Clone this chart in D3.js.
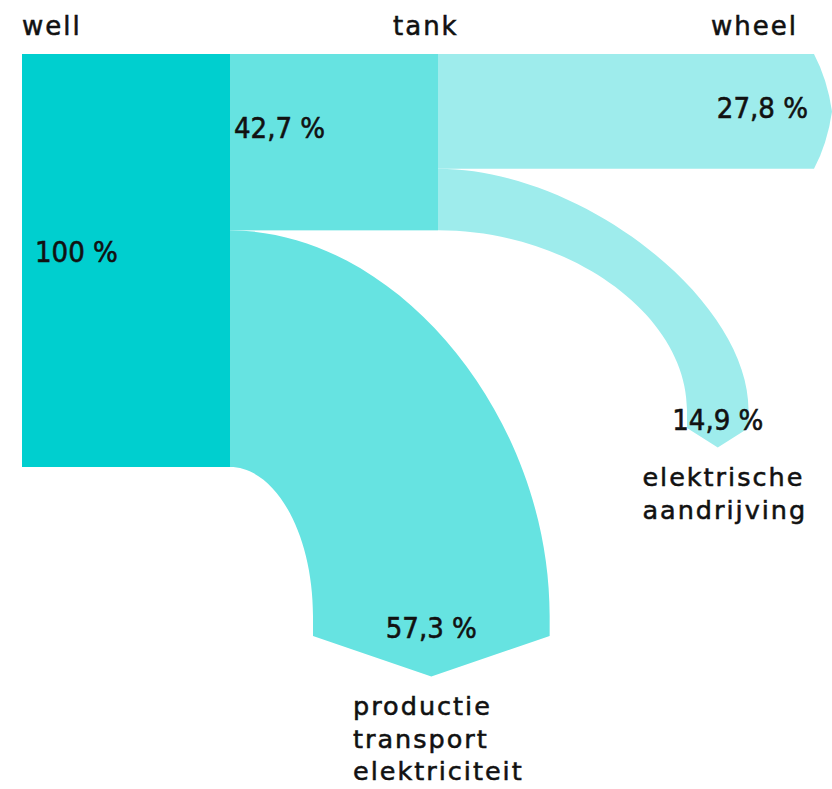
<!DOCTYPE html>
<html><head><meta charset="utf-8">
<script src="https://cdn.jsdelivr.net/npm/d3@7"></script>
<style>body{margin:0;background:#fff}svg{display:block}text{stroke:#111;stroke-width:0.55px;paint-order:stroke}</style>
</head><body>
<svg id="chart" width="832" height="789"></svg>
<script>
// ---- data ----
const stages = ["well", "tank", "wheel"];
const stageValues = [100, 42.7, 27.8];
const lossNames = [["productie", "transport", "elektriciteit"], ["elektrische", "aandrijving"]];
const lossValues = [57.3, 14.9];
const colors = ["#00CFCF", "#66E3E1", "#9EECEC"];

// ---- layout ----
const svg = d3.select("#chart");
const y = d3.scaleLinear().domain([0, 100]).range([54, 467]);
const x = d3.scaleLinear().domain([0, 2]).range([22, 438]);
const arrowRight = 814, wheelTip = 18;
const lossLayout = [
  {rx: 83, bendY: 616, drop: 20, kIn: 0.55, kOut: 0.52, labelDx: 7},
  {rx: 249, bendY: 410, drop: 18, kIn: 0.53, kOut: 0.46, labelDx: 7}
];
const locale = d3.formatLocale({decimal: ",", thousands: ".", grouping: [3], currency: ["", ""]});
const fmt = v => (Number.isInteger(v) ? locale.format("d")(v) : locale.format(".1f")(v)) + " %";
const valueFont = "'DejaVu Sans Condensed', 'DejaVu Sans', sans-serif";
const labelFont = "'DejaVu Sans', sans-serif";
const h = v => y(v) - y(0);

// well block
svg.append("rect").attr("x", x(0)).attr("y", y(0))
  .attr("width", x(1) - x(0)).attr("height", h(stageValues[0])).attr("fill", colors[0]);
// tank block
svg.append("rect").attr("x", x(1)).attr("y", y(0))
  .attr("width", x(2) - x(1)).attr("height", h(stageValues[1])).attr("fill", colors[1]);
// wheel arrow
{
  const p = d3.path();
  const y0 = y(0), y1 = y(stageValues[2]), mid = (y0 + y1) / 2;
  p.moveTo(x(2), y0);
  p.lineTo(arrowRight, y0);
  p.quadraticCurveTo(arrowRight + wheelTip * 0.75, y0 + (mid - y0) * 0.45, arrowRight + wheelTip, mid);
  p.quadraticCurveTo(arrowRight + wheelTip * 0.75, y1 - (y1 - mid) * 0.45, arrowRight, y1);
  p.lineTo(x(2), y1);
  p.closePath();
  svg.append("path").attr("d", p.toString()).attr("fill", colors[2]);
}

// loss flows
lossValues.forEach((v, i) => {
  const L = lossLayout[i];
  const x0 = x(i + 1);
  const top = y(stageValues[i + 1]);
  const t = h(v);
  const bot = top + t;
  const xi = x0 + L.rx, xo = x0 + L.rx + t;
  const yEnd = L.bendY + L.drop;
  const cx = (xi + xo) / 2;
  const tip = 12 + 0.12 * t;
  const p = d3.path();
  p.moveTo(x0, top);
  p.bezierCurveTo(x0 + L.kOut * (xo - x0), top, xo, L.bendY - L.kOut * (L.bendY - top), xo, L.bendY);
  p.lineTo(xo, yEnd);
  p.lineTo(cx, yEnd + tip);
  p.lineTo(xi, yEnd);
  p.lineTo(xi, L.bendY);
  p.bezierCurveTo(xi, L.bendY - L.kIn * (L.bendY - bot), x0 + L.kIn * (xi - x0), bot, x0, bot);
  p.closePath();
  svg.append("path").attr("d", p.toString()).attr("fill", colors[i + 1]);

  // value label
  svg.append("text").attr("x", cx).attr("y", yEnd + 2)
    .attr("text-anchor", "middle").attr("font-family", valueFont).attr("font-size", 29)
    .attr("fill", "#111").text(fmt(v));

  // category label block
  const g = svg.append("g");
  const texts = g.selectAll("text").data(lossNames[i]).join("text")
    .attr("y", (d, j) => yEnd + tip + 39 + j * 32.5)
    .attr("font-family", labelFont).attr("font-size", 25.5).attr("letter-spacing", 2)
    .attr("fill", "#111").text(d => d);
  let maxW = 0;
  texts.each(function () { maxW = Math.max(maxW, this.getComputedTextLength()); });
  texts.attr("x", cx - maxW / 2 + L.labelDx);
});

// stage value labels
svg.append("text").attr("x", x(0) + 13).attr("y", y(0) + 208)
  .attr("font-family", valueFont).attr("font-size", 29).attr("fill", "#111").text(fmt(stageValues[0]));
svg.append("text").attr("x", x(1) + 4).attr("y", y(0) + 84)
  .attr("font-family", valueFont).attr("font-size", 29).attr("fill", "#111").text(fmt(stageValues[1]));
svg.append("text").attr("x", arrowRight - 6).attr("y", y(0) + 64).attr("text-anchor", "end")
  .attr("font-family", valueFont).attr("font-size", 29).attr("fill", "#111").text(fmt(stageValues[2]));

// stage titles
const titleX = [x(0), 393, 711];
svg.selectAll("text.stage").data(stages).join("text").attr("class", "stage")
  .attr("x", (d, i) => titleX[i]).attr("y", 35)
  .attr("font-family", labelFont).attr("font-size", 26).attr("letter-spacing", 2)
  .attr("fill", "#111").text(d => d);
</script>
</body></html>
